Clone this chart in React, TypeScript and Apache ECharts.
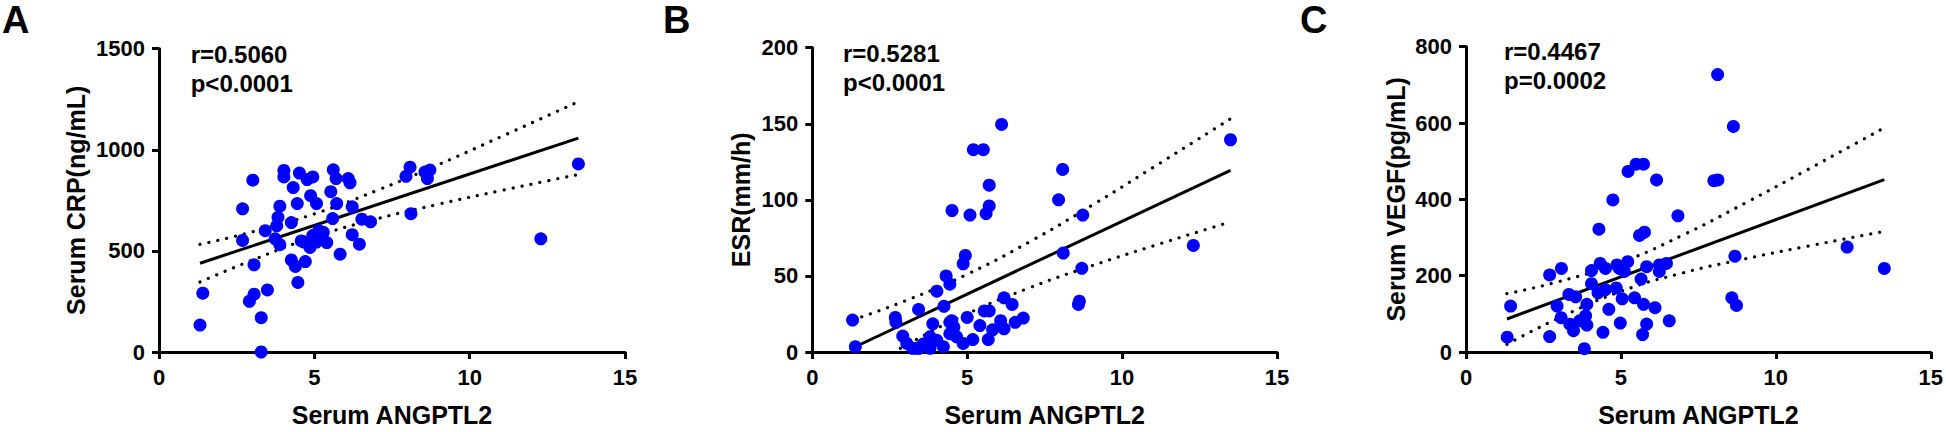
import React, { useEffect, useRef } from "react";
import * as echarts from "echarts";

// ---------- data ----------
const xTicks = [0, 5, 10, 15];

const crpPoints: number[][] = [
  [1.32, 133], [1.41, 291], [2.69, 552], [2.69, 708], [3.02, 850], [3.06, 431], [3.06, 286],
  [2.91, 251], [3.49, 307], [3.29, 170], [3.29, 0], [3.42, 600], [3.74, 560], [3.89, 531],
  [3.79, 624], [3.83, 666], [3.89, 721], [4.02, 898], [4.02, 866], [4.26, 640], [4.32, 813],
  [4.45, 734], [4.52, 885], [4.77, 853], [4.95, 866], [4.88, 773], [5.07, 734], [4.26, 455],
  [4.39, 423], [4.71, 447], [4.47, 344], [4.58, 549], [4.86, 517], [4.95, 576], [5.14, 600],
  [5.07, 544], [5.40, 541], [5.29, 592], [5.53, 793], [5.61, 901], [5.70, 858], [5.72, 734],
  [5.59, 660], [5.83, 484], [6.09, 858], [6.15, 837], [6.22, 718], [6.22, 580], [6.45, 533],
  [6.53, 657], [6.81, 644], [7.95, 869], [8.08, 914], [8.56, 890], [8.72, 900], [8.64, 858],
  [8.11, 684], [12.29, 560], [13.5, 930], [4.67, 544], [5.25, 560],
];

const esrPoints: number[][] = [
  [1.30, 21], [1.39, 3.5], [2.68, 22.7], [2.70, 19.5], [2.92, 10.5], [3.05, 5.6], [3.24, 2.4],
  [3.45, 2.4], [3.43, 28], [3.58, 5.2], [3.80, 2.4], [3.80, 10], [3.89, 18.5], [4.02, 40],
  [4.25, 30], [4.02, 7.7], [4.23, 3.5], [4.32, 50], [4.44, 44.6], [4.51, 93], [4.44, 19.5],
  [4.57, 16.3], [4.44, 12], [4.66, 9.9], [4.87, 5.6], [4.87, 58], [4.94, 63.5], [5.00, 22.7],
  [5.09, 90], [5.18, 8.2], [5.20, 133], [5.52, 133], [5.41, 17.4], [5.55, 27], [5.71, 27],
  [5.68, 8.2], [5.71, 109.6], [5.71, 96], [5.61, 91], [5.82, 14.6], [6.08, 20.6], [6.11, 149.6],
  [6.19, 35.6], [6.45, 31.3], [6.19, 15.2], [6.55, 19.5], [6.81, 22.3], [7.95, 100], [8.08, 120],
  [8.10, 65], [8.73, 90], [8.70, 55], [8.59, 31.3], [8.62, 33.4], [12.30, 70], [13.5, 139.5],
  [3.37, 2.4], [4.5, 20.6],
];

const vegfPoints: number[][] = [
  [1.33, 38.7], [1.44, 120.5], [2.70, 40.5], [2.70, 202], [3.08, 219], [2.94, 120.5], [3.07, 90],
  [3.32, 150.7], [3.54, 144.5], [3.35, 73], [3.47, 56], [3.67, 81.8], [3.86, 94.7], [3.90, 125],
  [3.90, 70.7], [3.82, 8.8], [4.05, 179], [4.05, 213.4], [4.29, 321.8], [4.33, 232], [4.26, 155],
  [4.50, 219], [4.50, 163.6], [4.42, 51.6], [4.61, 112], [4.74, 398.4], [4.87, 228], [4.85, 167.7],
  [4.98, 75.8], [5.08, 215], [5.04, 139.4], [5.22, 236.6], [5.23, 473], [5.49, 492], [5.73, 492],
  [5.44, 142], [5.65, 191], [5.60, 305.5], [5.76, 314], [5.73, 125], [5.83, 73.3], [5.70, 45.7],
  [5.83, 223.7], [6.10, 116], [6.15, 451], [6.24, 228], [6.24, 211], [6.47, 232], [6.56, 81.8],
  [6.84, 357], [8.00, 449], [8.13, 451], [8.12, 727], [8.63, 591], [8.68, 251], [8.58, 142],
  [8.73, 122], [12.30, 275], [13.5, 219], [4.95, 219], [5.11, 211],
];

// regression lines (end points) and 95% confidence bands
const fitX = [1.32, 13.5];
const crpFit = [439, 1058];
const esrFit = [2.8, 119.4];
const vegfFit = [86.5, 451.9];

const ciX = [1.32, 3, 5, 7, 9, 11, 13.5];
const crpUpper = [532, 594, 683, 798, 927, 1064, 1238];
const crpLower = [346, 454, 569, 658, 731, 798, 878];
const esrUpper = [21.2, 33.6, 51.1, 72.3, 96.1, 121.3, 153.3];
const esrLower = [-15.6, 4.2, 25.1, 42.1, 56.5, 69.7, 85.5];
const vegfUpper = [152.8, 184.6, 234.9, 306.5, 389.8, 476.9, 587.7];
const vegfLower = [20.2, 89.2, 158.9, 207.3, 244.0, 276.9, 316.1];

const panelLetters = ["A", "B", "C"];
const yNames = ["Serum CRP(ng/mL)", "ESR(mm/h)", "Serum VEGF(pg/mL)"];
const yMax = [1500, 200, 800];
const yInterval = [500, 50, 200];
const rTexts = ["r=0.5060", "r=0.5281", "r=0.4467"];
const pTexts = ["p<0.0001", "p<0.0001", "p=0.0002"];
const xName = "Serum ANGPTL2";

const FONT = '"Liberation Sans", Arial, Helvetica, sans-serif';

export default function App() {
  const ref = useRef<HTMLDivElement>(null);

  useEffect(() => {
    document.body.style.margin = "0";
    document.body.style.overflow = "hidden";
    if (!ref.current) return;
    const chart = echarts.init(ref.current, undefined, { renderer: "svg" });

    const grids = [
      { left: 159, top: 48.7, width: 466, height: 310.6 },
      { left: 812.3, top: 47.7, width: 464.7, height: 311 },
      { left: 1466, top: 46.7, width: 466.3, height: 310 },
    ];
    const yNameGap = [71, 59, 58];
    const letterX = [2, 663, 1300];
    const rX = [190.7, 843, 1504];
    const rBase = [63, 62, 60];

    const points = [crpPoints, esrPoints, vegfPoints];
    const fits = [crpFit, esrFit, vegfFit];
    const uppers = [crpUpper, esrUpper, vegfUpper];
    const lowers = [crpLower, esrLower, vegfLower];

    const axisLine = { lineStyle: { color: "#000", width: 3 } };
    const axisTick = { length: 7, lineStyle: { color: "#000", width: 3 } };
    const axisLabelBase = {
      fontSize: 22,
      fontWeight: "bold",
      color: "#000",
      fontFamily: FONT,
      formatter: (v: number) => String(v),
    };
    const nameStyle = { fontSize: 25, fontWeight: "bold", color: "#000", fontFamily: FONT };

    const series: any[] = [];
    for (let i = 0; i < 3; i++) {
      const dotted = {
        color: "#000",
        width: 3.2,
        type: [0.1, 9],
        cap: "round",
      };
      series.push({
        type: "line",
        xAxisIndex: i,
        yAxisIndex: i,
        data: ciX.map((x, k) => [x, uppers[i][k]]),
        smooth: true,
        showSymbol: false,
        lineStyle: dotted,
        silent: true,
        z: 2,
      });
      series.push({
        type: "line",
        xAxisIndex: i,
        yAxisIndex: i,
        data: ciX.map((x, k) => [x, lowers[i][k]]),
        smooth: true,
        showSymbol: false,
        lineStyle: dotted,
        silent: true,
        z: 2,
      });
      series.push({
        type: "line",
        xAxisIndex: i,
        yAxisIndex: i,
        data: fitX.map((x, k) => [x, fits[i][k]]),
        showSymbol: false,
        lineStyle: { color: "#000", width: 3 },
        silent: true,
        z: 3,
      });
      series.push({
        type: "scatter",
        xAxisIndex: i,
        yAxisIndex: i,
        data: points[i],
        symbolSize: 13,
        itemStyle: { color: "#0000FF", opacity: 1 },
        z: 4,
      });
    }

    const graphic: any[] = [];
    for (let i = 0; i < 3; i++) {
      graphic.push({
        type: "text",
        x: letterX[i],
        y: 20,
        style: {
          text: panelLetters[i],
          fontSize: 38,
          fontWeight: "bold",
          fontFamily: FONT,
          fill: "#000",
          verticalAlign: "middle",
          align: "left",
        },
      });
      graphic.push({
        type: "text",
        x: rX[i],
        y: rBase[i] - 8.5,
        style: {
          text: rTexts[i],
          fontSize: 24,
          fontWeight: "bold",
          fontFamily: FONT,
          fill: "#000",
          verticalAlign: "middle",
          align: "left",
        },
      });
      graphic.push({
        type: "text",
        x: rX[i],
        y: rBase[i] + 29 - 8.5,
        style: {
          text: pTexts[i],
          fontSize: 24,
          fontWeight: "bold",
          fontFamily: FONT,
          fill: "#000",
          verticalAlign: "middle",
          align: "left",
        },
      });
    }

    chart.setOption({
      animation: false,
      backgroundColor: "#fff",
      grid: grids,
      xAxis: grids.map((_, i) => ({
        gridIndex: i,
        type: "value",
        min: xTicks[0],
        max: xTicks[xTicks.length - 1],
        interval: 5,
        name: xName,
        nameLocation: "middle",
        nameGap: 50,
        nameTextStyle: nameStyle,
        axisLine,
        axisTick,
        axisLabel: { ...axisLabelBase, margin: 14 },
        splitLine: { show: false },
      })),
      yAxis: grids.map((_, i) => ({
        gridIndex: i,
        type: "value",
        min: 0,
        max: yMax[i],
        interval: yInterval[i],
        name: yNames[i],
        nameLocation: "middle",
        nameGap: yNameGap[i],
        nameRotate: 90,
        nameTextStyle: nameStyle,
        axisLine: { ...axisLine, onZero: false },
        axisTick,
        axisLabel: { ...axisLabelBase, margin: 14 },
        splitLine: { show: false },
      })),
      series,
      graphic,
    });

    return () => chart.dispose();
  }, []);

  return <div ref={ref} style={{ width: 1946, height: 432 }} />;
}
